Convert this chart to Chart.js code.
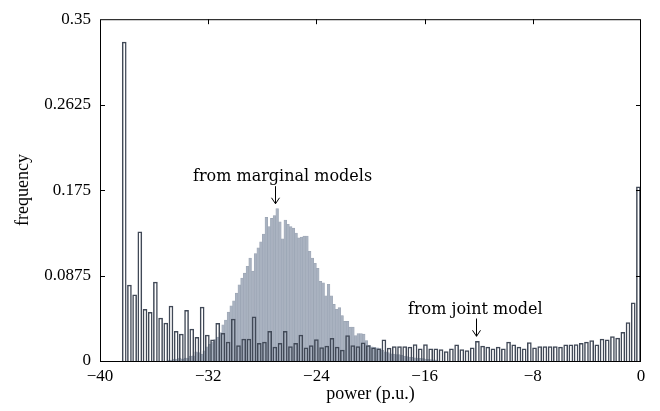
<!DOCTYPE html>
<html>
<head>
<meta charset="utf-8">
<script src="https://cdn.jsdelivr.net/npm/chart.js@4.4.1/dist/chart.umd.min.js"></script>
<style>
  body { margin: 0; background: #fff; }
</style>
</head>
<body>
<canvas id="histChart" width="660" height="411"></canvas>
<script>
// joint model histogram: 100 bins from -38.4 up to 0
const jointBinStart = -38.4;
const jointBinWidth = 0.384;
const jointFreq = [
  0.327, 0.078, 0.068, 0.1325, 0.0533, 0.0502, 0.0812, 0.0442, 0.0391, 0.0566,
  0.0307, 0.028, 0.0523, 0.033, 0.0246, 0.0556, 0.027, 0.0219, 0.0388, 0.0287,
  0.0196, 0.0432, 0.0162, 0.0229, 0.0229, 0.0455, 0.0185, 0.0196, 0.0307, 0.0145,
  0.0185, 0.0307, 0.0152, 0.0185, 0.027, 0.0138, 0.0162, 0.0222, 0.0142, 0.0155,
  0.0236, 0.0145, 0.0115, 0.0263, 0.0162, 0.0152, 0.019, 0.0162, 0.0138, 0.0128,
  0.0219, 0.0135, 0.0152, 0.0152, 0.0152, 0.0145, 0.0172, 0.0128, 0.0172, 0.0128,
  0.0128, 0.0121, 0.0101, 0.0128, 0.0169, 0.0121, 0.0111, 0.0138, 0.0206, 0.0155,
  0.0145, 0.0128, 0.0145, 0.0128, 0.0196, 0.0169, 0.0145, 0.0128, 0.0192, 0.0138,
  0.0152, 0.0152, 0.0152, 0.0152, 0.0145, 0.0169, 0.0169, 0.0172, 0.0185, 0.0196,
  0.0212, 0.0169, 0.0229, 0.0219, 0.0253, 0.0239, 0.0297, 0.0398, 0.06, 0.1787
];

// marginal models histogram: 100 bins from -35 to -15
const marginalBinStart = -35;
const marginalBinWidth = 0.2;
const marginalFreq = [
  0.001, 0.001, 0.002, 0.002, 0.003, 0.002, 0.003, 0.003, 0.005, 0.0054,
  0.0094, 0.0085, 0.007, 0.0105, 0.0145, 0.017, 0.0196, 0.022, 0.0246, 0.029,
  0.037, 0.042, 0.05, 0.0566, 0.0617, 0.0695, 0.078, 0.085, 0.09, 0.097,
  0.1055, 0.092, 0.11, 0.116, 0.122, 0.13, 0.147, 0.1376, 0.146, 0.149,
  0.156, 0.1426, 0.125, 0.1443, 0.14, 0.1376, 0.136, 0.131, 0.126, 0.127,
  0.128, 0.128, 0.1123, 0.1055, 0.1, 0.095, 0.0816, 0.08, 0.0667, 0.0786,
  0.0667, 0.058, 0.053, 0.0546, 0.0465, 0.0405, 0.0405, 0.0347, 0.0347, 0.026,
  0.028, 0.028, 0.0275, 0.021, 0.016, 0.0145, 0.014, 0.0135, 0.0128, 0.011,
  0.0094, 0.0085, 0.0074, 0.007, 0.0067, 0.0065, 0.006, 0.005, 0.0045, 0.004,
  0.0037, 0.0033, 0.003, 0.0027, 0.0025, 0.002, 0.0018, 0.0015, 0.0012, 0.001
];

const xTicks = [-40, -32, -24, -16, -8, 0];
const yTicks = [0, 0.0875, 0.175, 0.2625, 0.35];

// text labels with their arrows, in data units
const notes = [
  { text: "from marginal models", x: -26.5, y: 0.189, arrowX: -27.05, from: 0.179, to: 0.161 },
  { text: "from joint model", x: -12.25, y: 0.0526, arrowX: -12.2, from: 0.0435, to: 0.0253 },
];

const serif = "'Liberation Serif', 'Times New Roman', serif";

const binPoints = (start, width, freq) =>
  freq.map((f, i) => ({ x: start + width * (i + 0.5), y: f }));

const frameAndNotes = {
  id: "frameAndNotes",
  afterDatasetsDraw(chart) {
    const { ctx, chartArea: a, scales } = chart;
    const xs = scales.x, ys = scales.y;
    ctx.save();
    ctx.strokeStyle = "#000";
    ctx.lineWidth = 1;
    ctx.strokeRect(a.left + 0.5, a.top + 0.5, a.right - a.left - 1, a.bottom - a.top);

    // inward tick marks
    ctx.beginPath();
    yTicks.slice(1, -1).forEach((v) => {
      const y = Math.round(ys.getPixelForValue(v)) + 0.5;
      ctx.moveTo(a.left, y); ctx.lineTo(a.left + 5, y);
      ctx.moveTo(a.right, y); ctx.lineTo(a.right - 5, y);
    });
    xTicks.slice(1, -1).forEach((v) => {
      const x = Math.round(xs.getPixelForValue(v)) + 0.5;
      ctx.moveTo(x, a.top); ctx.lineTo(x, a.top + 5);
    });
    ctx.stroke();

    // annotations
    ctx.fillStyle = "#000";
    ctx.font = "16px 'DejaVu Serif', serif";
    ctx.textAlign = "center";
    ctx.textBaseline = "middle";
    notes.forEach((n) => {
      ctx.fillText(n.text, xs.getPixelForValue(n.x), ys.getPixelForValue(n.y));
      const ax = Math.round(xs.getPixelForValue(n.arrowX)) + 0.5;
      const y0 = ys.getPixelForValue(n.from);
      const y1 = ys.getPixelForValue(n.to);
      ctx.beginPath();
      ctx.moveTo(ax, y0); ctx.lineTo(ax, y1);
      ctx.moveTo(ax - 4, y1 - 6); ctx.lineTo(ax, y1); ctx.lineTo(ax + 4, y1 - 6);
      ctx.stroke();
    });
    ctx.restore();
  },
};

new Chart(document.getElementById("histChart"), {
  type: "bar",
  data: {
    datasets: [
      {
        label: "from joint model",
        data: binPoints(jointBinStart, jointBinWidth, jointFreq),
        xAxisID: "x",
        backgroundColor: "rgba(255,255,255,0)",
        borderColor: "#414957",
        borderWidth: 1.5,
        categoryPercentage: 1,
        barPercentage: 0.9,
        grouped: false,
        order: 0,
      },
      {
        label: "from marginal models",
        data: binPoints(marginalBinStart, marginalBinWidth, marginalFreq),
        xAxisID: "x2",
        backgroundColor: "#a9b2c0",
        borderColor: "#9aa4b3",
        borderWidth: 0.6,
        categoryPercentage: 1,
        barPercentage: 1,
        grouped: false,
        order: 1,
      },
    ],
  },
  options: {
    responsive: false,
    animation: false,
    layout: { padding: { left: 0, top: 15, right: 19, bottom: 0 } },
    plugins: {
      legend: { display: false },
      tooltip: { enabled: false },
    },
    scales: {
      x: {
        type: "linear",
        min: -40,
        max: 0,
        offset: false,
        grid: { display: false, drawTicks: false },
        border: { display: false },
        afterBuildTicks: (scale) => {
          scale.ticks = xTicks.map((v) => ({ value: v }));
        },
        afterFit: (scale) => {
          scale.height = 50;
        },
        ticks: {
          color: "#000",
          padding: 5,
          maxRotation: 0,
          font: { family: serif, size: 17 },
          callback: (v) => String(v).replace("-", "\u2212"),
        },
        title: {
          display: true,
          text: "power (p.u.)",
          color: "#000",
          font: { family: serif, size: 18 },
          padding: { top: 0, bottom: 6 },
        },
      },
      x2: {
        type: "linear",
        min: -40,
        max: 0,
        offset: false,
        display: false,
      },
      y: {
        min: 0,
        max: 0.35,
        grid: { display: false, drawTicks: false },
        border: { display: false },
        afterBuildTicks: (scale) => {
          scale.ticks = yTicks.map((v) => ({ value: v }));
        },
        afterFit: (scale) => {
          scale.width = 100;
        },
        ticks: {
          color: "#000",
          padding: 9,
          font: { family: serif, size: 17 },
          callback: (v) => String(v),
        },
        title: {
          display: true,
          text: "frequency",
          color: "#000",
          font: { family: serif, size: 18 },
          padding: { top: 12, bottom: 0 },
        },
      },
    },
  },
  plugins: [frameAndNotes],
});
</script>
</body>
</html>
